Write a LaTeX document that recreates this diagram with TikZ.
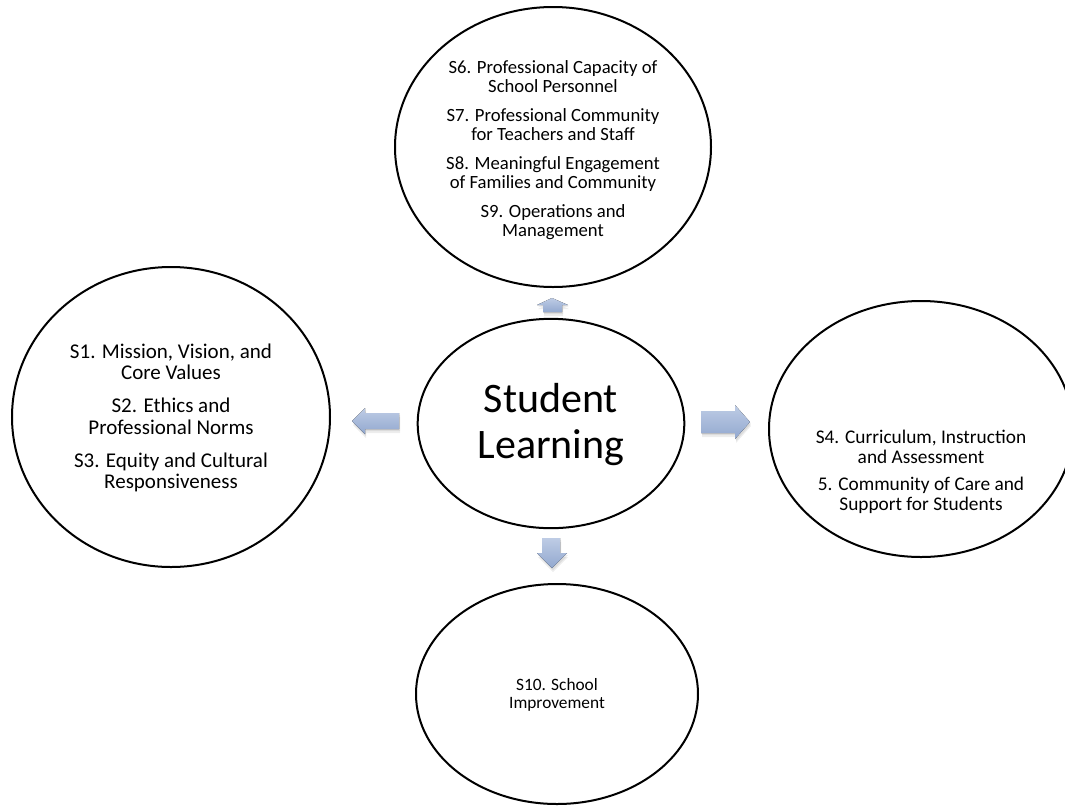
\documentclass[tikz,border=0pt]{standalone}
\usepackage{fontspec}
\setmainfont{Carlito}
\usetikzlibrary{shapes.geometric}
\definecolor{arrTop}{RGB}{190,204,229}
\definecolor{arrBot}{RGB}{146,168,207}
\begin{document}
\begin{tikzpicture}[x=0.75pt,y=-0.75pt,
  circ/.style={ellipse,draw=black,line width=1.5pt,fill=white,inner sep=0pt},
  lbl/.style={align=center,inner sep=0pt,text=black},
  arrowfill/.style={top color=arrTop,bottom color=arrBot,draw=none},
  arrowshadow/.style={fill=black,opacity=0.07,draw=none}]
\useasboundingbox (0,0) rectangle (1065,808);
\fill[white] (0,0) rectangle (1065,808);

% arrows (shadows then bodies)
\foreach \d in {2,4}{
  \fill[arrowshadow,shift={(1,\d)}] (352,421) -- (365,408) -- (365,413) -- (399,413) -- (399,429) -- (365,429) -- (365,434) -- cycle;
  \fill[arrowshadow,shift={(1,\d)}] (750,422) -- (735,405) -- (735,411) -- (701,411) -- (701,433) -- (735,433) -- (735,439) -- cycle;
  \fill[arrowshadow,shift={(1,\d)}] (552,298) -- (568,305) -- (562,305) -- (562,312) -- (543,312) -- (543,305) -- (537,305) -- cycle;
  \fill[arrowshadow,shift={(1,\d)}] (552,568) -- (567,553) -- (560,553) -- (560,538) -- (542,538) -- (542,553) -- (537,553) -- cycle;
}
\fill[arrowfill] (352,421) -- (365,408) -- (365,413) -- (399,413) -- (399,429) -- (365,429) -- (365,434) -- cycle;
\fill[arrowfill] (750,422) -- (735,405) -- (735,411) -- (701,411) -- (701,433) -- (735,433) -- (735,439) -- cycle;
\fill[arrowfill] (552,298) -- (568,305) -- (562,305) -- (562,312) -- (543,312) -- (543,305) -- (537,305) -- cycle;
\fill[arrowfill] (552,568) -- (567,553) -- (560,553) -- (560,538) -- (542,538) -- (542,553) -- (537,553) -- cycle;

% ellipses
\node[circ,minimum width=237pt,minimum height=210pt] (etop) at (553,147) {};
\node[circ,minimum width=238.5pt,minimum height=225pt] (eleft) at (171,417) {};
\node[circ,minimum width=200pt,minimum height=157pt] (ecenter) at (551,423.5) {};
\node[circ,minimum width=228pt,minimum height=192pt] (eright) at (921,429) {};
\node[circ,minimum width=211.5pt,minimum height=165pt] (ebottom) at (557,694) {};

% texts
\node[lbl,font=\fontsize{14}{14.5}\selectfont] (ttop) at (553,150)
  {S6. Professional Capacity of\\School Personnel\\[7pt]S7. Professional Community\\for Teachers and Staff\\[7pt]S8. Meaningful Engagement\\of Families and Community\\[7pt]S9. Operations and\\Management};
\node[lbl,font=\fontsize{15.75}{16}\selectfont] (tleft) at (171,418)
  {S1. Mission, Vision, and\\Core Values\\[9pt]S2. Ethics and\\Professional Norms\\[9pt]S3. Equity and Cultural\\Responsiveness};
\node[lbl,font=\fontsize{31.5}{34.5}\selectfont] (tcenter) at (551,425)
  {Student\\Learning};
\node[lbl,font=\fontsize{14.5}{15}\selectfont] (tright) at (921,472)
  {S4. Curriculum, Instruction\\and Assessment\\[5pt]5. Community of Care and\\Support for Students};
\node[lbl,font=\fontsize{13}{13.5}\selectfont] (tbottom) at (557,695)
  {S10. School\\Improvement};
\end{tikzpicture}
\end{document}
